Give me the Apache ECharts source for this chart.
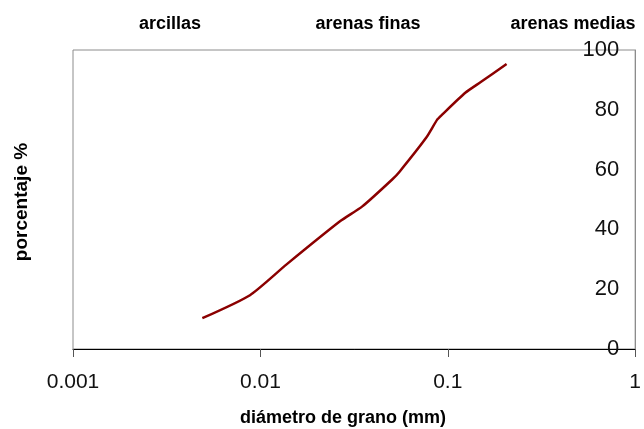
<!DOCTYPE html>
<html>
<head>
<meta charset="utf-8">
<script src="https://cdn.jsdelivr.net/npm/echarts@6/dist/echarts.min.js"></script>
<style>html,body{margin:0;padding:0;background:#fff}#c{width:644px;height:429px}</style>
</head>
<body>
<div id="c"></div>
<script>
const diameters = [0.0049, 0.0088, 0.0138, 0.0266, 0.0350, 0.0505, 0.0553, 0.0768, 0.0878, 0.0930, 0.124, 0.150, 0.206];
const percents  = [10.3, 18, 28.3, 42.7, 47.7, 56.7, 59.3, 70.7, 76.7, 78.3, 85.7, 89.3, 95.3];
const xTicks = [0.001, 0.01, 0.1, 1];
const yTicks = [0, 20, 40, 60, 80, 100];
const zoneLabels = ['arcillas', 'arenas finas', 'arenas medias'];
const xTitle = 'diámetro de grano (mm)';
const yTitle = 'porcentaje %';

const chart = echarts.init(document.getElementById('c'), null, {renderer: 'canvas'});
const font = 'Liberation Sans, Arial, sans-serif';
chart.setOption({
  animation: false,
  grid: {left: 73, right: 4, top: 50, bottom: 80, show: true, borderColor: '#8c8c8c', borderWidth: 1},
  xAxis: {
    type: 'log', logBase: 10, min: xTicks[0], max: xTicks[xTicks.length - 1],
    axisLine: {show: true, lineStyle: {color: '#000', width: 1}},
    axisTick: {show: true, length: 8, lineStyle: {color: '#555'}},
    splitLine: {show: false},
    minorTick: {show: false},
    axisLabel: {color: '#111', fontFamily: font, fontSize: 21, margin: 23,
      formatter: v => { const t = xTicks.find(k => Math.abs(Math.log10(k) - Math.log10(v)) < 1e-6); return t !== undefined ? String(t) : ''; }}
  },
  yAxis: {
    type: 'value', position: 'right', min: yTicks[0], max: yTicks[yTicks.length - 1], interval: 20,
    axisLine: {show: true, lineStyle: {color: '#8c8c8c'}},
    axisTick: {show: false},
    splitLine: {show: false},
    axisLabel: {inside: true, margin: 16, color: '#111', fontFamily: font, fontSize: 22}
  },
  graphic: [
    {type: 'text', x: 170, y: 24, style: {text: zoneLabels[0], font: 'bold 18px ' + font, fill: '#000', textAlign: 'center', textVerticalAlign: 'middle'}},
    {type: 'text', x: 368, y: 24, style: {text: zoneLabels[1], font: 'bold 18px ' + font, fill: '#000', textAlign: 'center', textVerticalAlign: 'middle'}},
    {type: 'text', x: 573, y: 24, style: {text: zoneLabels[2], font: 'bold 18px ' + font, fill: '#000', textAlign: 'center', textVerticalAlign: 'middle'}},
    {type: 'text', x: 343, y: 418, style: {text: xTitle, font: 'bold 18px ' + font, fill: '#000', textAlign: 'center', textVerticalAlign: 'middle'}},
    {type: 'text', x: 22, y: 202, rotation: Math.PI / 2, style: {text: yTitle, font: 'bold 19px ' + font, fill: '#000', textAlign: 'center', textVerticalAlign: 'middle'}}
  ],
  series: [{
    type: 'line', data: diameters.map((d, i) => [d, percents[i]]),
    showSymbol: false, smooth: 0.2,
    lineStyle: {color: '#8b0000', width: 2.5}
  }]
});
</script>
</body>
</html>
